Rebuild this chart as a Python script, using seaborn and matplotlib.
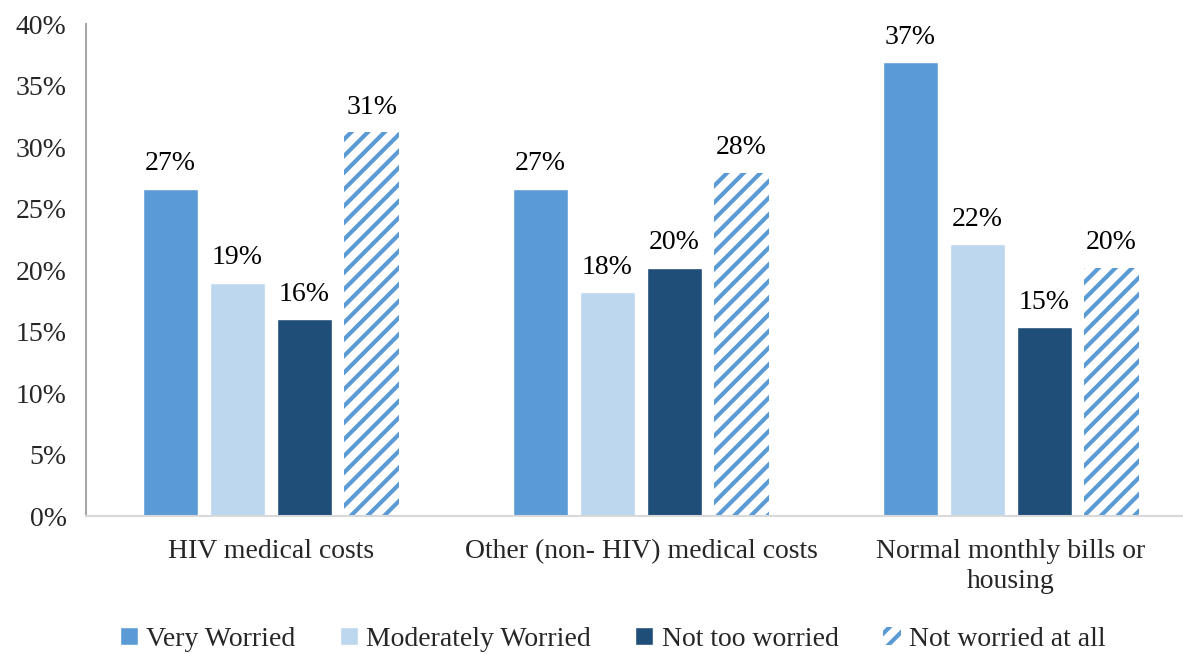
import numpy as np
import pandas as pd
import seaborn as sns
import matplotlib.pyplot as plt

# values (percent)
categories = ["HIV medical costs", "Other (non- HIV) medical costs",
              "Normal monthly bills or\nhousing"]
levels = ["Very Worried", "Moderately Worried", "Not too worried", "Not worried at all"]
very_worried = [26.6, 26.6, 36.9]
moderately_worried = [19.0, 18.2, 22.1]
not_too_worried = [16.0, 20.2, 15.35]
not_worried_at_all = [31.2, 27.9, 20.2]
colors = ["#5B9BD5", "#BDD7EE", "#1F4E79", "#FFFFFF"]

rows = []
for lvl, vals in zip(levels, [very_worried, moderately_worried,
                              not_too_worried, not_worried_at_all]):
    for cat, v in zip(categories, vals):
        rows.append({"category": cat, "level": lvl, "value": v})
df = pd.DataFrame(rows)

sns.set_style("white")
plt.rcParams['font.family'] = ['Liberation Serif', 'DejaVu Serif']
plt.rcParams['hatch.linewidth'] = 3.0
plt.rcParams['hatch.color'] = "#5B9BD5"
FS = 20

fig = plt.figure(figsize=(11.83, 6.54), dpi=100)
# axes runs a little past the right edge, like the original
ax = fig.add_axes([0.0727, 0.2104, 0.9383, 0.7529])

sns.barplot(data=df, x="category", y="value", hue="level", order=categories,
            hue_order=levels, palette=colors, width=0.725, gap=0.19,
            saturation=1, legend=False, ax=ax)

# hatched series
for p in ax.containers[3]:
    p.set_facecolor("white")
    p.set_edgecolor("#5B9BD5")
    p.set_hatch("//")
    p.set_linewidth(0)

for cont in ax.containers:
    ax.bar_label(cont, labels=[f"{v:.0f}%" for v in cont.datavalues],
                 padding=9, fontsize=FS, color="black")

ax.set_ylim(0, 40)
ax.set_xlim(-0.5, 2.5)
ax.set_yticks(np.arange(0, 41, 5))
ax.set_yticklabels([f"{t}%" for t in range(0, 41, 5)], fontsize=FS)
ax.set_xticks(range(3))
ax.set_xticklabels(categories, fontsize=FS, linespacing=1.3)
ax.set_xticks([-0.5, 0.5, 1.5, 2.5], minor=True)
ax.tick_params(axis="x", which="major", length=0, pad=16)
ax.tick_params(axis="x", which="minor", length=8, color="#D9D9D9", width=1.5)
ax.tick_params(axis="y", length=8, color="#A6A6A6", width=1.5, pad=6)
ax.set_xlabel("")
ax.set_ylabel("")

for s in ["top", "right"]:
    ax.spines[s].set_visible(False)
ax.spines["left"].set_color("#A6A6A6")
ax.spines["left"].set_linewidth(1.5)
ax.spines["bottom"].set_color("#D9D9D9")
ax.spines["bottom"].set_linewidth(1.5)

fig.legend([c.patches[0] for c in ax.containers], levels, loc="lower center",
           bbox_to_anchor=(0.518, -0.035), ncol=4, frameon=False, fontsize=FS,
           handlelength=0.65, handleheight=0.65, handletextpad=0.3,
           columnspacing=1.6)

fig.savefig("out.png", dpi=100)
